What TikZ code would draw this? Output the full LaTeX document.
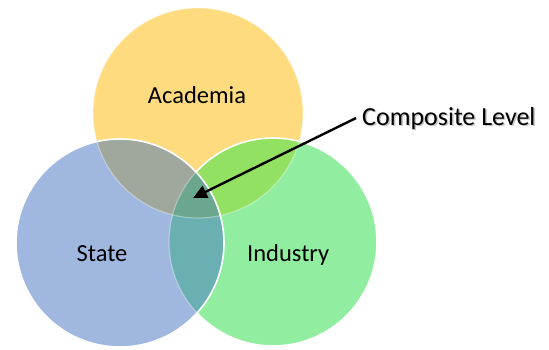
\documentclass[tikz,border=0pt]{standalone}
\usepackage{fontspec}
\setmainfont{Carlito}
\usetikzlibrary{arrows.meta}
\definecolor{acad}{HTML}{FFDB7F}
\definecolor{stat}{HTML}{A0B7DF}
\definecolor{indu}{HTML}{91EEA0}
\definecolor{as}{HTML}{A0A79D}
\definecolor{ai}{HTML}{93E163}
\definecolor{si}{HTML}{6AB0B2}
\definecolor{asi}{HTML}{6BA68E}
\tikzset{
  lbl/.style={font=\fontsize{24.5}{28}\selectfont, inner sep=0pt, anchor=base},
  edge/.style={white, line width=1.6pt},
  faint/.style={white, line width=1.2pt, opacity=0.35},
  pointer/.style={line width=2.4pt, -{Triangle[length=14pt,width=13pt]}}
}
\newcommand{\rA}{105}
\newcommand{\rS}{104}
\newcommand{\rI}{104}
\begin{document}
\begin{tikzpicture}[x=1pt,y=-1pt]
\useasboundingbox (0,0) rectangle (549,349);
\coordinate (A) at (198,113);
\coordinate (S) at (120,243);
\coordinate (I) at (273,242);
% base fills
\fill[acad] (A) circle (\rA);
\fill[indu] (I) circle (\rI);
\fill[stat] (S) circle (\rS);
\begin{scope}\clip (A) circle (\rA); \fill[ai] (I) circle (\rI); \end{scope}
\begin{scope}\clip (A) circle (\rA); \fill[as] (S) circle (\rS); \end{scope}
\begin{scope}\clip (S) circle (\rS); \fill[si] (I) circle (\rI); \end{scope}
\begin{scope}\clip (A) circle (\rA); \clip (S) circle (\rS); \fill[asi] (I) circle (\rI); \end{scope}
% outlines
\draw[faint] (A) circle (\rA);
\draw[edge] (I) circle (\rI);
% redo inside State to fade the lines beneath it
\begin{scope}
  \clip (S) circle (\rS);
  \fill[stat] (S) circle (\rS);
  \begin{scope}\clip (A) circle (\rA); \fill[as] (S) circle (\rS); \end{scope}
  \fill[si] (I) circle (\rI);
  \begin{scope}\clip (A) circle (\rA); \fill[asi] (I) circle (\rI); \end{scope}
  \draw[faint] (A) circle (\rA);
  \draw[faint] (I) circle (\rI);
\end{scope}
\draw[edge] (S) circle (\rS);
% labels
\node[lbl] (ta) at (197,103.5) {Academia};
\node[lbl] (ts) at (102,261) {State};
\node[lbl, anchor=base west] (ti) at (247,261) {Industry};
\node[font=\fontsize{26}{30}\selectfont, inner sep=0pt, anchor=base west, text=black!45, opacity=0.5] at (363.5,126.5) {Composite Level};
\node[font=\fontsize{26}{30}\selectfont, inner sep=0pt, anchor=base west] (tc) at (362,125) {Composite Level};
\coordinate (tip) at (193,198);
\draw[pointer] ([xshift=-6pt]tc.west) -- (tip);
\end{tikzpicture}
\end{document}
